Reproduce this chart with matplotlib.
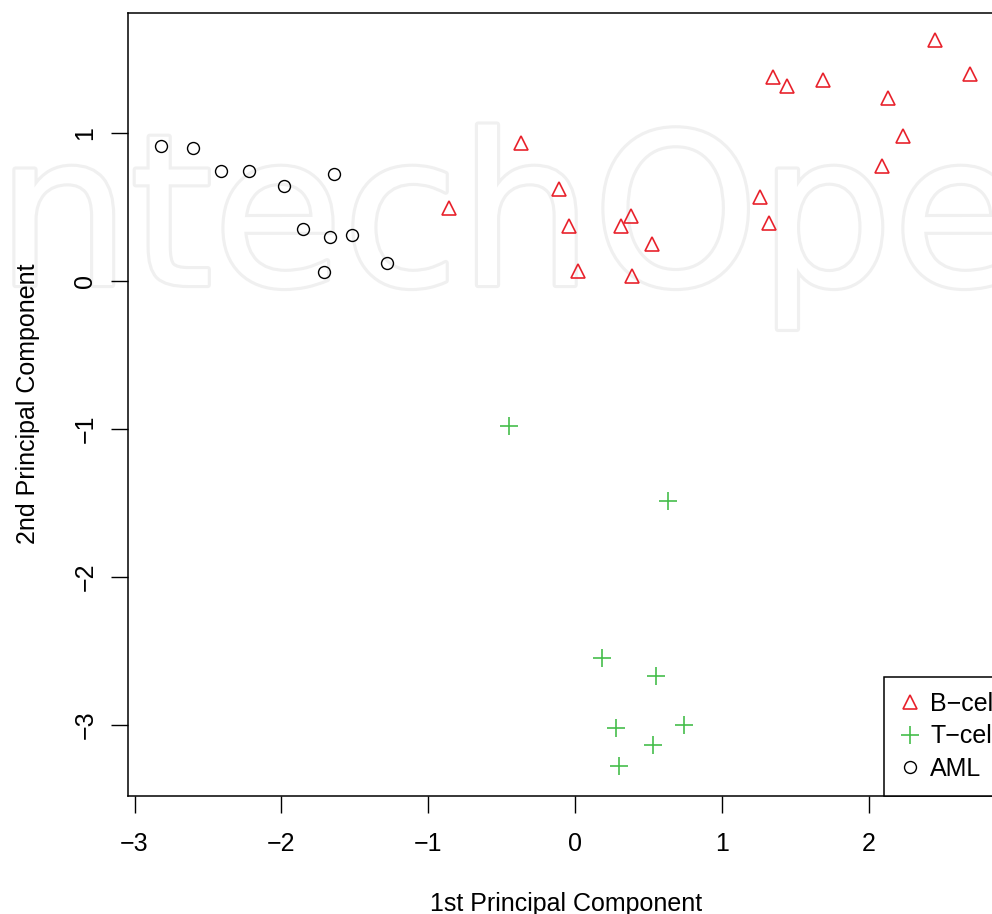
import matplotlib
matplotlib.use('Agg')
import matplotlib.pyplot as plt
import matplotlib.patheffects as pe

plt.rcParams['font.family'] = ['Liberation Sans', 'DejaVu Sans']

# PCA scores
bcell_x = [-0.86, -0.37, -0.11, -0.04, 0.38, 0.31, 0.52, 0.02, 0.39,
           2.45, 1.35, 1.44, 1.69, 2.69, 2.13, 2.23, 2.09, 1.26, 1.32]
bcell_y = [0.49, 0.93, 0.62, 0.37, 0.44, 0.37, 0.25, 0.07, 0.03,
           1.63, 1.38, 1.32, 1.36, 1.40, 1.24, 0.98, 0.78, 0.57, 0.39]
tcell_x = [-0.45, 0.63, 0.18, 0.55, 0.28, 0.74, 0.53, 0.30]
tcell_y = [-0.98, -1.49, -2.55, -2.67, -3.02, -3.00, -3.14, -3.28]
aml_x = [-2.82, -2.60, -2.41, -2.22, -1.98, -1.64, -1.85, -1.67, -1.52, -1.71, -1.28]
aml_y = [0.91, 0.90, 0.74, 0.74, 0.64, 0.72, 0.35, 0.30, 0.31, 0.06, 0.12]

group_labels = ['B\u2212cell', 'T\u2212cell', 'AML']
x_ticks = [-3, -2, -1, 0, 1, 2]
y_ticks = [-3, -2, -1, 0, 1]

RED = '#E8222C'
GREEN = '#46BE4B'

fig = plt.figure(figsize=(9.92, 9.14), dpi=100)
ax = fig.add_axes([0.129, 0.1296, 0.8831, 0.8567])
ax.set_facecolor('none')

# faint watermark behind the plot
fig.text(-66 / 992, (914 - 285) / 914, 'IntechOpen', fontsize=152,
         family='DejaVu Sans', color='white', ha='left', va='baseline', zorder=-1,
         path_effects=[pe.withStroke(linewidth=4.5, foreground='#f0f0f0')])

ax.plot(bcell_x, bcell_y, ls='none', marker='^', ms=10.5, mfc='none',
        mec=RED, mew=1.2, label=group_labels[0])
ax.plot(tcell_x, tcell_y, ls='none', marker='+', ms=12.5, mec=GREEN,
        mew=1.2, label=group_labels[1])
ax.plot(aml_x, aml_y, ls='none', marker='o', ms=8.6, mfc='none',
        mec='black', mew=1.0, label=group_labels[2])

ax.set_xlim(-3.045, 2.92)
ax.set_ylim(-3.48, 1.815)
ax.set_xticks(x_ticks)
ax.set_yticks(y_ticks)
ax.tick_params(axis='both', length=12, width=1.0, labelsize=18)
ax.tick_params(axis='x', pad=14)
ax.tick_params(axis='y', pad=10)
for lab in ax.get_yticklabels():
    lab.set_rotation(90)
    lab.set_va('center')
for sp in ax.spines.values():
    sp.set_linewidth(1.1)

ax.set_xlabel('1st Principal Component', fontsize=18, labelpad=26)
ax.set_ylabel('2nd Principal Component', fontsize=18, labelpad=24)

leg = ax.legend(loc='lower left', bbox_to_anchor=(0.863, 0), borderaxespad=0,
                fancybox=False, edgecolor='black', framealpha=1, fontsize=18,
                handlelength=0.9, handletextpad=0.35, labelspacing=0.33,
                borderpad=0.6)
leg.get_frame().set_linewidth(1.1)

fig.savefig('out.png', dpi=100)
